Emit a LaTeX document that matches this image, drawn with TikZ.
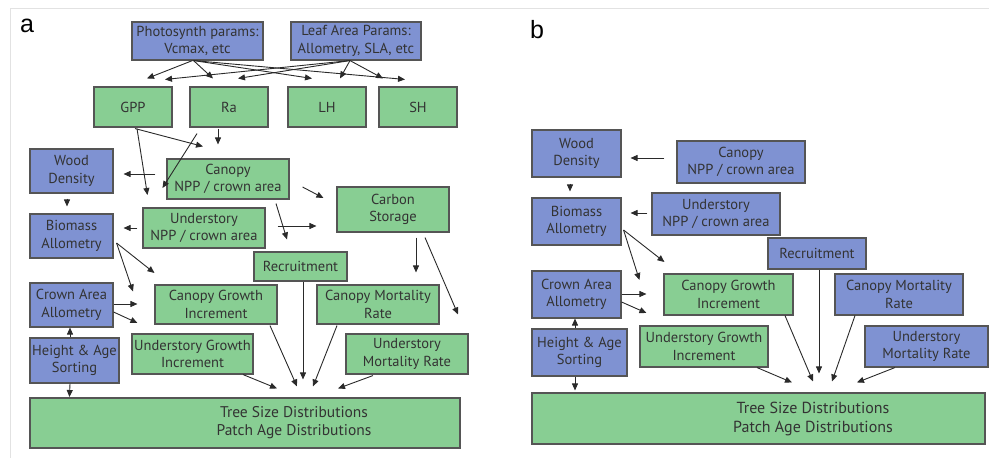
\documentclass[tikz,border=0pt]{standalone}
\usepackage{fontspec}
\setmainfont{PT Sans}
\newfontfamily\labfont{Liberation Sans}
\usetikzlibrary{arrows.meta,calc}
\definecolor{bbox}{HTML}{7F92D2}
\definecolor{gbox}{HTML}{88CE93}
\definecolor{bord}{HTML}{555555}
\definecolor{arrc}{HTML}{2A2A2A}
\definecolor{txtc}{HTML}{333333}
\definecolor{framec}{HTML}{E2E2E2}
\tikzset{
  box/.style={draw=bord, line width=1.1pt, inner sep=0pt, align=center, text=txtc,
    font=\fontsize{14.5}{17.5}\selectfont},
  bluebox/.style={box, fill=bbox},
  greenbox/.style={box, fill=gbox},
  arr/.style={draw=arrc, line width=0.9pt, -{Triangle[length=7pt,width=6pt]}},
  panlab/.style={font=\labfont\fontsize{25}{25}\selectfont, inner sep=0pt},
}
\begin{document}
\begin{tikzpicture}[x=1pt,y=-1pt]
\useasboundingbox (0,0) rectangle (989,458);
\draw[framec, line width=0.8pt] (10,458) -- (10,8) -- (989,8);

% ================= panel a =================
\node[panlab] (laba) at (27,26) {a};
\node[bluebox, minimum width=131pt, minimum height=38pt] (ps) at (197.5,41) {Photosynth params:\\Vcmax, etc};
\node[bluebox, minimum width=130pt, minimum height=38pt] (la) at (356,41) {Leaf Area Params:\\Allometry, SLA, etc};
\node[greenbox, minimum width=78pt, minimum height=40pt] (gpp) at (133,107) {GPP};
\node[greenbox, minimum width=78pt, minimum height=40pt] (ra) at (229,107) {Ra};
\node[greenbox, minimum width=78pt, minimum height=40pt] (lh) at (327,107) {LH};
\node[greenbox, minimum width=78pt, minimum height=40pt] (sh) at (418,107) {SH};
\node[bluebox, minimum width=83pt, minimum height=44pt] (wda) at (71.5,171) {Wood\\Density};
\node[greenbox, minimum width=122pt, minimum height=40pt] (cnpa) at (228,179) {Canopy\\NPP / crown area};
\node[greenbox, minimum width=112pt, minimum height=45pt] (csa) at (393,209.5) {Carbon\\Storage};
\node[bluebox, minimum width=83pt, minimum height=44pt] (bma) at (71.5,236) {Biomass\\Allometry};
\node[greenbox, minimum width=122pt, minimum height=40pt] (unpa) at (204,228) {Understory\\NPP / crown area};
\node[greenbox, minimum width=93pt, minimum height=29pt] (reca) at (300.5,266.5) {Recruitment};
\node[bluebox, minimum width=83pt, minimum height=44pt] (caa) at (71.5,305) {Crown Area\\Allometry};
\node[greenbox, minimum width=122pt, minimum height=39pt] (cgia) at (216,304.5) {Canopy Growth\\Increment};
\node[greenbox, minimum width=122pt, minimum height=39pt] (cmra) at (378,304.5) {Canopy Mortality\\Rate};
\node[bluebox, minimum width=89pt, minimum height=45pt] (hsa) at (74.5,360.5) {Height \& Age\\Sorting};
\node[greenbox, minimum width=121pt, minimum height=40pt] (ugia) at (192.5,354) {Understory Growth\\Increment};
\node[greenbox, minimum width=122pt, minimum height=40pt] (umra) at (407,354) {Understory\\Mortality Rate};
\node[greenbox, minimum width=430pt, minimum height=50pt] (tsa) at (245,423) {};
\node[box, draw=none, font=\fontsize{15.5}{18}\selectfont] (tsat) at ($(tsa.center)+(49,0)$) {Tree Size Distributions\\Patch Age Distributions};

\draw[arr] ($(ps.south)+(-5,0)$) -- ($(gpp.north)+(14,-8)$);
\draw[arr] ($(ps.south)+(-4,0)$) -- ($(ra.north)+(-16,-8)$);
\draw[arr] ($(ps.south)+(-4,0)$) -- ($(lh.north)+(-15,-8)$);
\draw[arr] ($(ps.south)+(-4,0)$) -- ($(sh.north)+(-13,-7)$);
\draw[arr] ($(la.south)+(-6,0)$) -- ($(gpp.north)+(32,-7)$);
\draw[arr] ($(la.south)+(-6,0)$) -- ($(ra.north)+(9,-8)$);
\draw[arr] ($(la.south)+(-6,0)$) -- ($(lh.north)+(13,-8)$);
\draw[arr] ($(la.south)+(-6,0)$) -- ($(sh.north)+(-35,-8)$);
\draw[arr] ($(gpp.south)+(2,1)$) -- ($(cnpa.north)+(-25,-12)$);
\draw[arr] ($(gpp.south)+(4,1)$) -- ($(cnpa.west)+(-19,16)$);
\draw[arr] ($(ra.south)+(-11,1)$) -- ($(cnpa.north)+(-10,-14)$);
\draw[arr] ($(ra.south)+(-32,6)$) -- ($(cnpa.west)+(-4,9)$);
\draw[arr] ($(cnpa.west)+(-11,-5)$) -- ($(wda.east)+(10,3)$);
\draw[arr] ($(cnpa.east)+(13,8)$) -- ($(csa.west)+(-13,-11.5)$);
\draw[arr] ($(wda.south)+(-4.5,5)$) -- ($(bma.north)+(-4.5,-7)$);
\draw[arr] ($(unpa.west)+(-5,0)$) -- ($(bma.east)+(10,-8)$);
\draw[arr] ($(cnpa.south)+(48,4)$) -- ($(reca.north)+(-13.5,-12)$);
\draw[arr] ($(unpa.east)+(12,-2)$) -- ($(csa.west)+(-20,16.5)$);
\draw[arr] ($(csa.south)+(23,5)$) -- ($(cmra.north)+(38,-12)$);
\draw[arr] ($(csa.south)+(32,5)$) -- ($(umra.north)+(51,-19)$);
\draw[arr] ($(bma.east)+(3,7)$) -- ($(cgia.west)+(0,-31.5)$);
\draw[arr] ($(bma.east)+(3,7)$) -- ($(ugia.north)+(-59.5,-42)$);
\draw[arr] ($(caa.east)+(0,-1)$) -- ($(cgia.west)+(-17,-0.5)$);
\draw[arr] ($(caa.east)+(0,7)$) -- ($(cgia.west)+(-17,18.5)$);
\draw[arr] ($(hsa.north)+(-4.5,0)$) -- ($(caa.south)+(-1.5,0)$);
\draw[arr] ($(hsa.south)+(-4.5,0)$) -- ($(tsa.west)+(40,-26)$);
\draw[arr] ($(reca.south)+(2.5,0)$) -- ($(tsa.north)+(58,-18)$);
\draw[arr] ($(ugia.south)+(50.5,0)$) -- ($(tsa.north)+(32,-9)$);
\draw[arr] ($(cgia.south)+(54,1)$) -- ($(tsa.north)+(52,-11)$);
\draw[arr] ($(cmra.south)+(-41,1)$) -- ($(tsa.north)+(68,-11)$);
\draw[arr] ($(umra.south)+(-34,1)$) -- ($(tsa.north)+(93,-9)$);

% ================= panel b =================
\node[panlab] (labb) at (537,30) {b};
\node[bluebox, minimum width=89pt, minimum height=47pt] (wdb) at (576.5,153.5) {Wood\\Density};
\node[bluebox, minimum width=128pt, minimum height=42pt] (cnpb) at (741,162) {Canopy\\NPP / crown area};
\node[bluebox, minimum width=89pt, minimum height=47pt] (bmb) at (576.5,221.5) {Biomass\\Allometry};
\node[bluebox, minimum width=128pt, minimum height=42pt] (unpb) at (716,214) {Understory\\NPP / crown area};
\node[bluebox, minimum width=98pt, minimum height=31pt] (recb) at (817,253.5) {Recruitment};
\node[bluebox, minimum width=89pt, minimum height=47pt] (cab) at (576.5,294.5) {Crown Area\\Allometry};
\node[greenbox, minimum width=129pt, minimum height=41pt] (cgib) at (728.5,294.5) {Canopy Growth\\Increment};
\node[bluebox, minimum width=128pt, minimum height=41pt] (cmrb) at (899,294.5) {Canopy Mortality\\Rate};
\node[bluebox, minimum width=95pt, minimum height=47pt] (hsb) at (579.5,352.5) {Height \& Age\\Sorting};
\node[greenbox, minimum width=128pt, minimum height=41pt] (ugib) at (704,346.5) {Understory Growth\\Increment};
\node[bluebox, minimum width=123pt, minimum height=41pt] (umrb) at (926.5,346.5) {Understory\\Mortality Rate};
\node[greenbox, minimum width=453pt, minimum height=51pt] (tsb) at (758.5,418.5) {};
\node[box, draw=none, font=\fontsize{16}{19}\selectfont] (tsbt) at ($(tsb.center)+(54.5,0)$) {Tree Size Distributions\\Patch Age Distributions};

\draw[arr] ($(cnpb.west)+(-12,-4)$) -- ($(wdb.east)+(9,4.5)$);
\draw[arr] ($(wdb.south)+(-6.5,6)$) -- ($(bmb.north)+(-6.5,-6)$);
\draw[arr] ($(unpb.west)+(-4,-1)$) -- ($(bmb.east)+(9,-8.5)$);
\draw[arr] ($(bmb.east)+(2,8.5)$) -- ($(cgib.west)+(1,-32.5)$);
\draw[arr] ($(bmb.east)+(2,8.5)$) -- ($(cgib.west)+(-24,-14.5)$);
\draw[arr] ($(cab.east)+(0,-0.5)$) -- ($(cgib.west)+(-17,-0.5)$);
\draw[arr] ($(cab.east)+(0,7.5)$) -- ($(cgib.west)+(-17,18.5)$);
\draw[arr] ($(hsb.north)+(-4.5,0)$) -- ($(cab.south)+(-1.5,0)$);
\draw[arr] ($(hsb.south)+(-4.5,0)$) -- ($(tsb.north)+(-183.5,-2)$);
\draw[arr] ($(recb.south)+(2,0)$) -- ($(tsb.north)+(60.5,-19)$);
\draw[arr] ($(ugib.south)+(53,0)$) -- ($(tsb.north)+(33.5,-10)$);
\draw[arr] ($(cgib.south)+(56.5,0)$) -- ($(tsb.north)+(54.5,-11)$);
\draw[arr] ($(cmrb.south)+(-44,0)$) -- ($(tsb.north)+(73.5,-11)$);
\draw[arr] ($(umrb.south)+(-31.5,0)$) -- ($(tsb.north)+(98.5,-10)$);
\end{tikzpicture}
\end{document}
